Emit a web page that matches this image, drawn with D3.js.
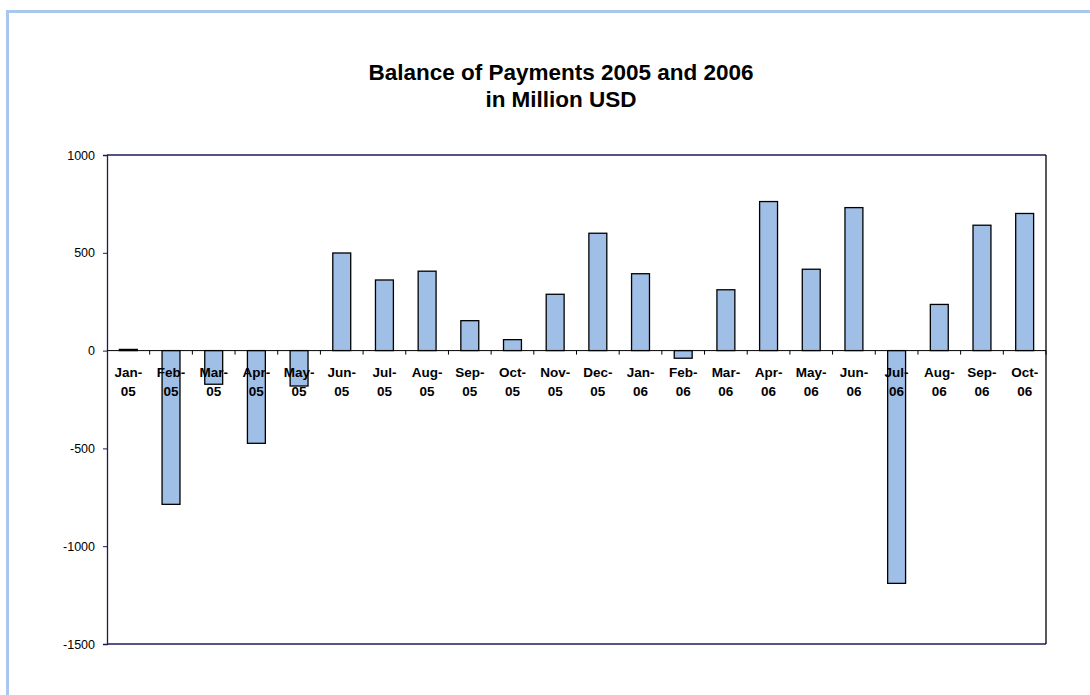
<!DOCTYPE html>
<html>
<head>
<meta charset="utf-8">
<script src="https://cdn.jsdelivr.net/npm/d3@7"></script>
<style>
  html, body { margin: 0; padding: 0; background: #fff; }
  svg { display: block; font-family: "Liberation Sans", Arial, Helvetica, sans-serif; }
</style>
</head>
<body>
<svg id="chart" width="1090" height="695"></svg>
<script>
// Monthly balance of payments, million USD
const months = ["Jan-05","Feb-05","Mar-05","Apr-05","May-05","Jun-05","Jul-05","Aug-05",
                "Sep-05","Oct-05","Nov-05","Dec-05","Jan-06","Feb-06","Mar-06","Apr-06",
                "May-06","Jun-06","Jul-06","Aug-06","Sep-06","Oct-06"];
const balance = [6, -786, -172, -474, -181, 499, 361, 406,
                 153, 56, 288, 600, 393, -39, 311, 762,
                 416, 731, -1190, 236, 641, 701];
const yTicks = [1000, 500, 0, -500, -1000, -1500];
const titleLines = ["Balance of Payments 2005 and 2006", "in Million USD"];

const svg = d3.select("#chart");

// outer frame (top and left edges)
svg.append("path")
  .attr("d", "M7.5,695 V11.5 H1090")
  .attr("fill", "none")
  .attr("stroke", "#a9c8ec")
  .attr("stroke-width", 3);

const plot = { left: 107, right: 1046, top: 155, bottom: 644 };

const x = d3.scaleBand().domain(months).range([plot.left, plot.right]).paddingInner(0.58).paddingOuter(0.29);
const xCat = d3.scaleBand().domain(months).range([plot.left, plot.right]);
const y = d3.scaleLinear().domain([-1500, 1000]).range([plot.bottom, plot.top]);

// title
const title = svg.append("text")
  .attr("x", 561).attr("y", 80)
  .attr("text-anchor", "middle")
  .attr("font-weight", "bold")
  .attr("font-size", 22.5)
  .attr("fill", "#000");
titleLines.forEach((t, i) => {
  title.append("tspan").attr("x", 561).attr("dy", i === 0 ? 0 : 27).text(t);
});

// plot box: top, bottom and right edges
svg.append("line").attr("x1", plot.left).attr("x2", plot.right).attr("y1", plot.top).attr("y2", plot.top)
  .attr("stroke", "#1c1c54").attr("stroke-width", 1.3);
svg.append("line").attr("x1", plot.left).attr("x2", plot.right).attr("y1", plot.bottom).attr("y2", plot.bottom)
  .attr("stroke", "#1c1c54").attr("stroke-width", 1.3);
svg.append("line").attr("x1", plot.right).attr("x2", plot.right).attr("y1", plot.top).attr("y2", plot.bottom)
  .attr("stroke", "#000").attr("stroke-width", 1.3);

// bars
svg.append("g").selectAll("rect")
  .data(months.map((m, i) => ({ m, v: balance[i] })))
  .join("rect")
  .attr("x", d => x(d.m))
  .attr("width", x.bandwidth())
  .attr("y", d => y(Math.max(0, d.v)))
  .attr("height", d => Math.abs(y(d.v) - y(0)))
  .attr("fill", "#a0bfe6")
  .attr("stroke", "#000")
  .attr("stroke-width", 1.3);

// y axis (plain hyphen for negatives)
const yAxis = svg.append("g")
  .attr("transform", `translate(${plot.left},0)`)
  .call(d3.axisLeft(y).tickValues(yTicks).tickSize(4).tickPadding(8).tickFormat(d => String(d)));
yAxis.select(".domain").attr("stroke", "#1c1c54").attr("stroke-width", 1.3);
yAxis.selectAll(".tick line").attr("stroke", "#1c1c54");
yAxis.selectAll(".tick text").attr("font-size", 12.5).attr("fill", "#000")
  .attr("font-family", "'Liberation Sans', Arial, sans-serif");

// category axis on the zero line, ticks at category boundaries
const zeroY = y(0);
svg.append("line").attr("x1", plot.left).attr("x2", plot.right).attr("y1", zeroY).attr("y2", zeroY)
  .attr("stroke", "#000").attr("stroke-width", 1);
svg.append("g").selectAll("line")
  .data(months)
  .join("line")
  .attr("x1", d => xCat(d) + xCat.bandwidth())
  .attr("x2", d => xCat(d) + xCat.bandwidth())
  .attr("y1", zeroY).attr("y2", zeroY + 4)
  .attr("stroke", "#000");

// category labels, split over two lines
const labels = svg.append("g").selectAll("text")
  .data(months)
  .join("text")
  .attr("text-anchor", "middle")
  .attr("font-weight", "bold")
  .attr("font-size", 13.5)
  .attr("fill", "#000");
labels.each(function (d) {
  const cx = xCat(d) + xCat.bandwidth() / 2;
  const [mon, yr] = d.split("-");
  const t = d3.select(this);
  t.append("tspan").attr("x", cx).attr("y", zeroY + 26).text(mon + "-");
  t.append("tspan").attr("x", cx).attr("y", zeroY + 45).text(yr);
});
</script>
</body>
</html>
